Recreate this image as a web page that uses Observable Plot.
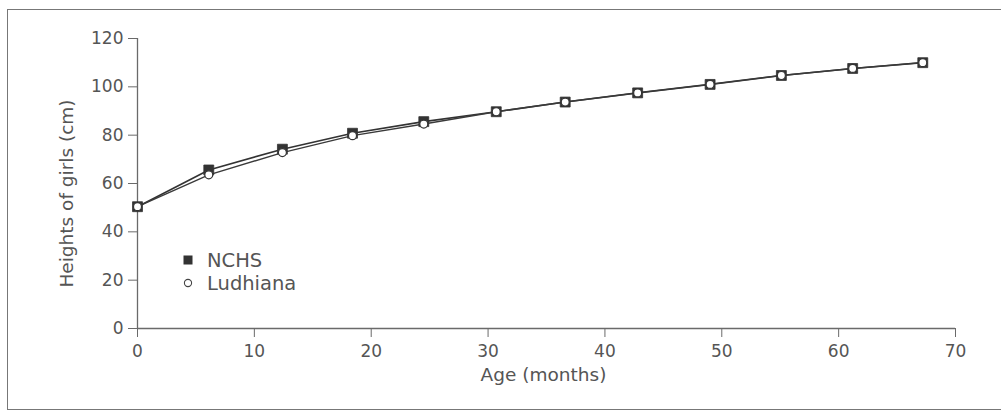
<!DOCTYPE html>
<html><head><meta charset="utf-8">
<script src="https://cdn.jsdelivr.net/npm/d3@7"></script>
<script src="https://cdn.jsdelivr.net/npm/@observablehq/plot@0.6"></script>
<style>
body{margin:0;background:#fff;}
#wrap{position:relative;width:1001px;height:414px;overflow:hidden;font-family:"DejaVu Sans",sans-serif;}
#frame{position:absolute;left:7px;top:9px;width:1020px;height:401px;border:1.5px solid #777;box-sizing:border-box;}
#chart{position:absolute;left:0;top:0;}
#legend{position:absolute;left:0;top:0;}
</style></head><body>
<div id="wrap"><div id="frame"></div><div id="chart"></div><svg id="legend" width="1001" height="414"></svg></div>
<script>
const ages = [0, 6.1, 12.4, 18.4, 24.5, 30.7, 36.6, 42.8, 49.0, 55.1, 61.2, 67.2];
const nchs = [50.4, 65.6, 74.2, 80.8, 85.6, 89.7, 93.7, 97.5, 101.0, 104.7, 107.6, 110.0];
const ludhiana = [50.4, 63.6, 72.8, 79.8, 84.6, 89.7, 93.7, 97.5, 101.0, 104.7, 107.6, 110.0];
const xTicks = [0, 10, 20, 30, 40, 50, 60, 70];
const yTicks = [0, 20, 40, 60, 80, 100, 120];
const seriesNames = ["NCHS", "Ludhiana"];
const xLabel = "Age (months)";
const yLabel = "Heights of girls (cm)";

const rowsN = ages.map((a, i) => ({age: a, h: nchs[i]}));
const rowsL = ages.map((a, i) => ({age: a, h: ludhiana[i]}));

const axisColor = "#6a6a6a";
const textColor = "#555";

const chart = Plot.plot({
  width: 1001,
  height: 414,
  marginLeft: 137,
  marginRight: 46,
  marginTop: 38,
  marginBottom: 86,
  style: {fontFamily: "DejaVu Sans, sans-serif", background: "transparent", overflow: "visible"},
  x: {domain: [0, 70]},
  y: {domain: [0, 120]},
  marks: [
    Plot.ruleX([0], {y1: 0, y2: 120, stroke: axisColor, strokeWidth: 1.3}),
    Plot.ruleY([0], {x1: 0, x2: 70, stroke: axisColor, strokeWidth: 1.3}),
    Plot.axisX(xTicks, {tickSize: 9, tickPadding: 7, fontSize: 17, stroke: axisColor, fill: textColor, label: null}),
    Plot.axisY(yTicks, {tickSize: 9, tickPadding: 5, fontSize: 17, stroke: axisColor, fill: textColor, label: null}),
    Plot.text([xLabel], {frameAnchor: "bottom", text: d => d, dy: 52, dx: -3, fontSize: 18.5, fill: textColor}),
    Plot.text([yLabel], {frameAnchor: "left", textAnchor: "middle", text: d => d, rotate: -90, dx: -70, dy: 10, fontSize: 18.5, fill: textColor}),
    Plot.line(rowsN, {x: "age", y: "h", stroke: "#333", strokeWidth: 1.6}),
    Plot.line(rowsL, {x: "age", y: "h", stroke: "#3a3a3a", strokeWidth: 1.4}),
    Plot.dot(rowsN, {x: "age", y: "h", symbol: "square", r: 5.6, fill: "#333", stroke: "#333", strokeWidth: 0.8}),
    Plot.dot(rowsL, {x: "age", y: "h", symbol: "circle", r: 4, fill: "white", stroke: "#333", strokeWidth: 1.2})
  ]
});
document.getElementById("chart").appendChild(chart);

// legend
const lg = d3.select("#legend");
const items = [
  {name: seriesNames[0], y: 260, kind: "square"},
  {name: seriesNames[1], y: 283, kind: "circle"}
];
items.forEach(it => {
  if (it.kind === "square") {
    lg.append("rect").attr("x", 183.5).attr("y", it.y - 4.5).attr("width", 9).attr("height", 9).attr("fill", "#333");
  } else {
    lg.append("circle").attr("cx", 188).attr("cy", it.y).attr("r", 3.6).attr("fill", "white").attr("stroke", "#444").attr("stroke-width", 1.1);
  }
  lg.append("text").attr("x", 207).attr("y", it.y + 7).attr("font-size", 19.5).attr("fill", textColor)
    .attr("font-family", "DejaVu Sans, sans-serif").text(it.name);
});
</script>
</body></html>
